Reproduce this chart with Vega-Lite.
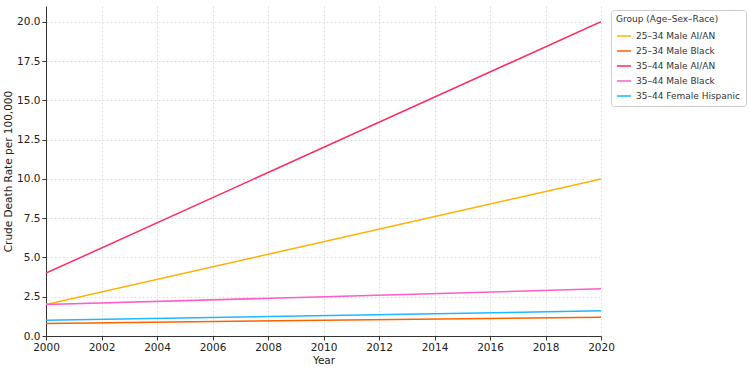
{
  "$schema": "https://vega.github.io/schema/vega-lite/v6.json",
  "width": 555,
  "height": 330,
  "autosize": {"type": "none"},
  "padding": {"left": 46, "top": 6, "right": 149, "bottom": 36},
  "background": "white",
  "config": {
    "font": "DejaVu Sans",
    "view": {"stroke": null},
    "axis": {"labelFont": "DejaVu Sans", "titleFont": "DejaVu Sans", "labelColor": "#222", "titleColor": "#222", "titleFontWeight": "normal", "labelFontSize": 10.5, "titleFontSize": 10.5}
  },
  "data": {
    "values": [
      {"Year": 2000, "Group": "25–34 Male AI/AN", "Rate": 2.0},
      {"Year": 2020, "Group": "25–34 Male AI/AN", "Rate": 10.0},
      {"Year": 2000, "Group": "25–34 Male Black", "Rate": 0.8},
      {"Year": 2020, "Group": "25–34 Male Black", "Rate": 1.2},
      {"Year": 2000, "Group": "35–44 Male AI/AN", "Rate": 4.0},
      {"Year": 2020, "Group": "35–44 Male AI/AN", "Rate": 20.0},
      {"Year": 2000, "Group": "35–44 Male Black", "Rate": 2.0},
      {"Year": 2020, "Group": "35–44 Male Black", "Rate": 3.0},
      {"Year": 2000, "Group": "35–44 Female Hispanic", "Rate": 1.0},
      {"Year": 2020, "Group": "35–44 Female Hispanic", "Rate": 1.6}
    ]
  },
  "mark": {"type": "line", "strokeWidth": 1.5, "clip": true},
  "encoding": {
    "x": {
      "field": "Year", "type": "quantitative",
      "scale": {"domain": [2000, 2020], "nice": false, "zero": false},
      "axis": {"values": [2000, 2002, 2004, 2006, 2008, 2010, 2012, 2014, 2016, 2018, 2020], "format": "d", "title": "Year", "grid": true, "gridDash": [2, 2], "gridColor": "#e0e0e0", "domainColor": "#333", "tickColor": "#333", "tickSize": 4, "labelPadding": 2, "titlePadding": 3, "labelFlush": false}
    },
    "y": {
      "field": "Rate", "type": "quantitative",
      "scale": {"domain": [0, 21], "nice": false},
      "axis": {"values": [0, 2.5, 5, 7.5, 10, 12.5, 15, 17.5, 20], "format": ".1f", "title": "Crude Death Rate per 100,000", "grid": true, "gridDash": [2, 2], "gridColor": "#e0e0e0", "domainColor": "#333", "tickColor": "#333", "tickSize": 4, "labelPadding": 2, "titlePadding": 3}
    },
    "color": {
      "field": "Group", "type": "nominal",
      "sort": ["25–34 Male AI/AN", "25–34 Male Black", "35–44 Male AI/AN", "35–44 Male Black", "35–44 Female Hispanic"],
      "scale": {"domain": ["25–34 Male AI/AN", "25–34 Male Black", "35–44 Male AI/AN", "35–44 Male Black", "35–44 Female Hispanic"], "range": ["#FFB000", "#FE6100", "#FF2A5F", "#FF5CC8", "#1EB8FF"]},
      "legend": {
        "title": "Group (Age–Sex–Race)",
        "orient": "none",
        "legendX": 565,
        "legendY": 4,
        "symbolType": "stroke",
        "symbolSize": 200,
        "symbolStrokeWidth": 1.5,
        "labelFontSize": 9,
        "titleFontSize": 9,
        "titleFontWeight": "normal",
        "titleColor": "#333",
        "labelColor": "#333",
        "rowPadding": 2,
        "padding": 5,
        "strokeColor": "#ccc",
        "fillColor": "white",
        "cornerRadius": 3,
        "titlePadding": 4
      }
    }
  }
}
